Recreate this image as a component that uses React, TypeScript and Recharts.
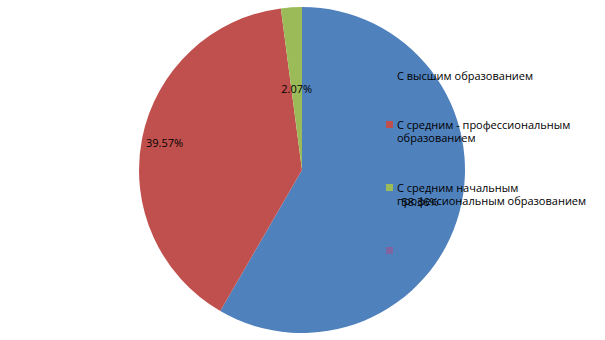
import React from 'react';
import { PieChart, Pie, Cell, Legend } from 'recharts';

const categories = [
  'С высшим образованием',
  'С средним - профессиональным образованием',
  'С средним начальным профессиональным образованием',
  '',
];
const shares = [58.36, 39.57, 2.07];
const colors = ['#4F81BD', '#C0504D', '#9BBB59', '#8064A2'];

const legendLines = [
  ['С высшим образованием'],
  ['С средним - профессиональным', 'образованием'],
  ['С средним начальным', 'профессиональным образованием'],
  [],
];

const data = shares.map((v, i) => ({ name: categories[i], value: v }));

const RADIAN = Math.PI / 180;
// how far out each label sits, as a share of the radius
const labelRadius = [0.75, 0.86, 0.5];
// vertical room taken by each legend entry
const legendRowHeight = [49, 63, 63, 14];

const renderLabel = (props: any) => {
  const { cx, cy, midAngle, outerRadius, index, value } = props;
  const r = outerRadius * labelRadius[index];
  const x = cx + r * Math.cos(-midAngle * RADIAN);
  const y = cy + r * Math.sin(-midAngle * RADIAN);
  return (
    <text x={x} y={y} textAnchor="middle" dominantBaseline="central" fill="#000" fontSize={11}>
      {value.toFixed(2)}%
    </text>
  );
};

const renderLegend = () => (
  <div style={{ fontSize: 11, color: '#000', lineHeight: '13px' }}>
    {categories.map((c, i) => (
      <div key={i} style={{ display: 'flex', alignItems: 'flex-start', height: legendRowHeight[i] }}>
        <span
          style={{
            width: 7,
            height: 7,
            background: colors[i],
            marginTop: 3,
            marginRight: 4,
            flexShrink: 0,
          }}
        />
        <span>
          {legendLines[i].map((l, j) => (
            <div key={j}>{l}</div>
          ))}
        </span>
      </div>
    ))}
  </div>
);

export default function App() {
  return (
    <div style={{ position: 'absolute', left: 0, top: 0, background: '#fff', fontFamily: '"Open Sans", sans-serif' }}>
      <PieChart width={605} height={340} margin={{ top: 0, right: 0, bottom: 0, left: 0 }}>
        <Pie
          data={data}
          dataKey="value"
          nameKey="name"
          cx={302}
          cy={170}
          outerRadius={163}
          startAngle={90}
          endAngle={-270}
          stroke="none"
          label={renderLabel}
          labelLine={false}
          isAnimationActive={false}
        >
          {data.map((d, i) => (
            <Cell key={i} fill={colors[i]} />
          ))}
        </Pie>
        <Legend
          content={renderLegend}
          wrapperStyle={{ left: 386, top: 69, width: 215 }}
        />
      </PieChart>
    </div>
  );
}
